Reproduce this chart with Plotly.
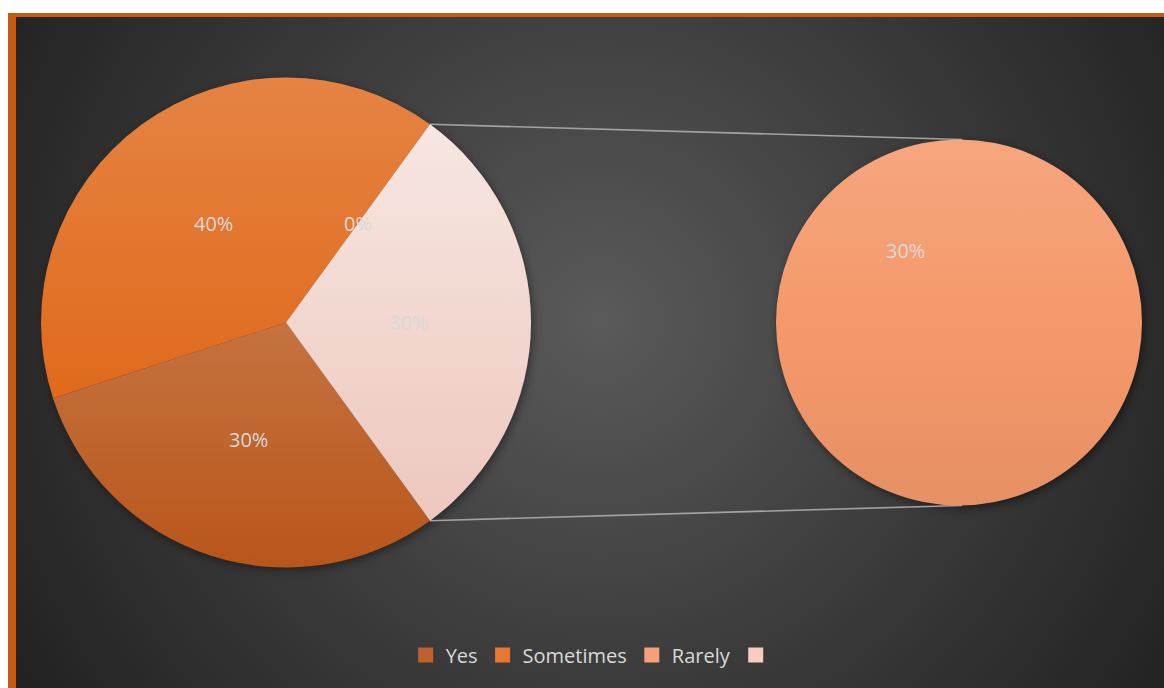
import math
import base64
import plotly.graph_objects as go

# ---- data -------------------------------------------------------------
categories = ["Yes", "Sometimes", "Rarely", ""]
values = [30, 40, 30, 0]

# items shown in the first pie; the rest are grouped into the "Other" slice
primary_items = ["Yes", "Sometimes", ""]
secondary_items = ["Rarely"]

# ---- styling ----------------------------------------------------------
W, H = 1164, 688
legend_colors = {"Yes": "#C0612D", "Sometimes": "#E67832", "Rarely": "#F4A079", "": "#F8CDBF"}
# base fill of each slice, white tint toward the top, dark shade toward the bottom
slice_fill = {"Yes": "#B9561A", "Sometimes": "#E06A1C", "": "#EDC8BE",
              "Other": "#EDC8BE", "Rarely": "#F5996B"}
slice_tint = {"Yes": 0.17, "Sometimes": 0.17, "": 0.55, "Other": 0.55, "Rarely": 0.13}
slice_shade = {"Yes": 0.0, "Sometimes": 0.0, "": 0.0, "Other": 0.0, "Rarely": 0.06}

MAIN = dict(cx=286.0, cy=322.5, r=245.0)
SEC = dict(cx=959.0, cy=322.5, r=183.0)
SEC_LABEL_ANGLE = -37.0  # clockwise from 12 o'clock
LABEL_FONT = dict(family="Open Sans", size=20, color="#D9D9D9")

value_of = dict(zip(categories, values))
total = sum(values)
main_labels = primary_items + ["Other"]
main_values = [value_of[c] for c in primary_items] + [sum(value_of[c] for c in secondary_items)]
sec_values = [value_of[c] for c in secondary_items]

# rotate so the "Other" slice is centred on 3 o'clock
other_frac = main_values[-1] / sum(main_values)
rotation = (90 + 180 * other_frac) % 360


def domain(p):
    return dict(x=[(p["cx"] - p["r"]) / W, (p["cx"] + p["r"]) / W],
                y=[1 - (p["cy"] + p["r"]) / H, 1 - (p["cy"] - p["r"]) / H])


def polar(p, ang, frac=1.0):
    a = math.radians(ang)
    return p["cx"] + frac * p["r"] * math.sin(a), p["cy"] - frac * p["r"] * math.cos(a)


def pct(v):
    return f"{round(100 * v / total)}%"


def label(x, y, text):
    return dict(x=x / W, y=1 - y / H, xref="paper", yref="paper", xanchor="center",
                yanchor="middle", text=text, showarrow=False, font=LABEL_FONT)


fig = go.Figure()

fig.add_trace(go.Pie(
    labels=main_labels, values=main_values, sort=False, direction="clockwise",
    rotation=rotation, domain=domain(MAIN), textinfo="none", hoverinfo="label+percent",
    marker=dict(colors=[slice_fill[l] for l in main_labels], line=dict(width=0)),
    showlegend=False,
))
fig.add_trace(go.Pie(
    labels=secondary_items, values=sec_values, sort=False, domain=domain(SEC),
    textinfo="none", hoverinfo="label", showlegend=False,
    marker=dict(colors=[slice_fill[l] for l in secondary_items], line=dict(width=0)),
))

# legend entries
for c in categories:
    fig.add_trace(go.Scatter(
        x=[None], y=[None], mode="markers", name=c,
        marker=dict(symbol="square", size=15, color=legend_colors[c]),
    ))

# ---- percentage labels -------------------------------------------------
annotations = []
main_total = sum(main_values)
cum = 0
wedges = []
for lab, v in zip(main_labels, main_values):
    a0 = rotation + 360 * cum / main_total
    a1 = rotation + 360 * (cum + v) / main_total
    x, y = polar(MAIN, (a0 + a1) / 2, 0.5)
    annotations.append(label(x, y, pct(v)))
    if v > 0:
        wedges.append((lab, a0, a1))
    cum += v

for lab, v in zip(secondary_items, sec_values):
    x, y = polar(SEC, SEC_LABEL_ANGLE, 0.49)
    annotations.append(label(x, y, pct(v)))

# ---- connector lines between the pies ----------------------------------
other_a0 = wedges[-1][1]
other_a1 = wedges[-1][2]
p_top = polar(MAIN, other_a0)
p_bot = polar(MAIN, other_a1)
shapes = []
for (x0, y0), y1 in [(p_top, SEC["cy"] - SEC["r"]), (p_bot, SEC["cy"] + SEC["r"])]:
    shapes.append(dict(type="line", xref="paper", yref="paper", layer="below",
                       x0=x0 / W, y0=1 - y0 / H, x1=(SEC["cx"] + 3) / W, y1=1 - y1 / H,
                       line=dict(color="#A3A3A3", width=1.6)))

# ---- background: frame, radial shading, soft pie shadows ---------------
bg_svg = f"""<svg xmlns='http://www.w3.org/2000/svg' width='{W}' height='{H}' viewBox='0 0 {W} {H}'>
<defs>
<radialGradient id='bg' gradientUnits='userSpaceOnUse' cx='600' cy='320' r='680'>
<stop offset='0' stop-color='#5A5A5A'/><stop offset='0.55' stop-color='#3A3A3A'/><stop offset='1' stop-color='#222222'/>
</radialGradient>
<filter id='blur' x='-20%' y='-20%' width='140%' height='140%'><feGaussianBlur stdDeviation='4'/></filter>
</defs>
<rect width='{W}' height='{H}' fill='#FFFFFF'/>
<rect x='8' y='13' width='{W}' height='{H}' fill='#C55A11'/>
<rect x='16' y='17' width='{W}' height='{H}' fill='url(#bg)'/>
<circle cx='{MAIN["cx"] + 2}' cy='{MAIN["cy"] + 3}' r='{MAIN["r"]}' fill='#000' opacity='0.4' filter='url(#blur)'/>
<circle cx='{SEC["cx"] + 2}' cy='{SEC["cy"] + 3}' r='{SEC["r"]}' fill='#000' opacity='0.45' filter='url(#blur)'/>
</svg>"""


def gradient(gid, lab):
    stops = [f"<stop offset='0' stop-color='#FFF' stop-opacity='{slice_tint[lab]}'/>"]
    if slice_shade[lab] > 0:
        stops += ["<stop offset='0.5' stop-color='#FFF' stop-opacity='0'/>",
                  "<stop offset='0.5' stop-color='#000' stop-opacity='0'/>",
                  f"<stop offset='1' stop-color='#000' stop-opacity='{slice_shade[lab]}'/>"]
    else:
        stops += ["<stop offset='1' stop-color='#FFF' stop-opacity='0'/>"]
    return f"<linearGradient id='{gid}' x1='0' y1='0' x2='0' y2='1'>{''.join(stops)}</linearGradient>"


# ---- top-to-bottom shading over each slice -----------------------------
defs = []
paths = []
for i, (lab, a0, a1) in enumerate(wedges):
    x0, y0 = polar(MAIN, a0)
    x1, y1 = polar(MAIN, a1)
    large = 1 if (a1 - a0) > 180 else 0
    defs.append(gradient(f"g{i}", lab))
    paths.append(f"<path d='M{MAIN['cx']},{MAIN['cy']} L{x0:.2f},{y0:.2f} "
                 f"A{MAIN['r']},{MAIN['r']} 0 {large} 1 {x1:.2f},{y1:.2f} Z' fill='url(#g{i})'/>")
defs.append(gradient("gs", secondary_items[0]))
paths.append(f"<circle cx='{SEC['cx']}' cy='{SEC['cy']}' r='{SEC['r']}' fill='url(#gs)'/>")
tint_svg = (f"<svg xmlns='http://www.w3.org/2000/svg' width='{W}' height='{H}' viewBox='0 0 {W} {H}'>"
            f"<defs>{''.join(defs)}</defs>{''.join(paths)}</svg>")


def data_uri(svg):
    return "data:image/svg+xml;base64," + base64.b64encode(svg.encode()).decode()


images = [
    dict(source=data_uri(bg_svg), xref="paper", yref="paper", x=0, y=1, sizex=1, sizey=1,
         xanchor="left", yanchor="top", sizing="stretch", layer="below"),
    dict(source=data_uri(tint_svg), xref="paper", yref="paper", x=0, y=1, sizex=1, sizey=1,
         xanchor="left", yanchor="top", sizing="stretch", layer="above"),
]

fig.update_layout(
    width=W, height=H, margin=dict(l=0, r=0, t=0, b=0),
    paper_bgcolor="#FFFFFF", plot_bgcolor="rgba(0,0,0,0)",
    xaxis=dict(visible=False), yaxis=dict(visible=False),
    images=images, shapes=shapes, annotations=annotations,
    legend=dict(orientation="h", x=0.51, xanchor="center", y=1 - 655 / H, yanchor="middle",
                font=dict(family="Open Sans", size=20, color="#D9D9D9"),
                bgcolor="rgba(0,0,0,0)", itemclick=False, itemdoubleclick=False),
    showlegend=True,
)

fig.write_html("out.html")
